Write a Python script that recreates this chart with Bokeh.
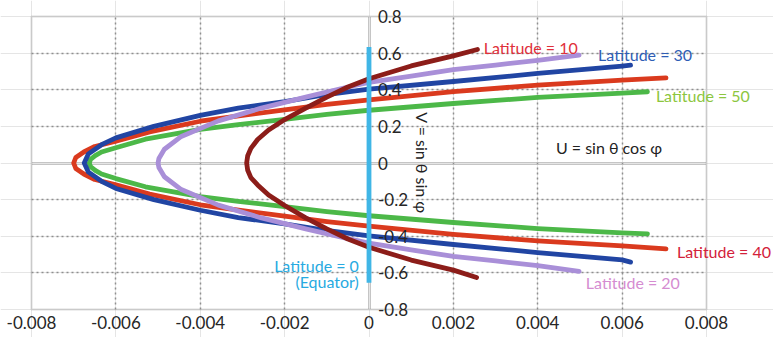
import math
from bokeh.plotting import figure
from bokeh.models import LinearAxis, FixedTicker, Label, Range1d, Grid, BoxAnnotation
from bokeh.embed import file_html
from bokeh.resources import INLINE

# ---- axis ticks ----
x_ticks = [-0.008, -0.006, -0.004, -0.002, 0, 0.002, 0.004, 0.006, 0.008]
x_tick_labels = ["-0.008", "-0.006", "-0.004", "-0.002", "0", "0.002", "0.004", "0.006", "0.008"]
y_ticks = [-0.8, -0.6, -0.4, -0.2, 0, 0.2, 0.4, 0.6, 0.8]
y_tick_labels = ["-0.8", "-0.6", "-0.4", "-0.2", "0", "0.2", "0.4", "0.6", "0.8"]

# ---- series (U = sin θ cos φ, V = sin θ sin φ) ----
lat10_u = [0.00255, 0.002, 0.001, 0.0, -0.0005, -0.001, -0.0015, -0.002, -0.00238, -0.00264,
           -0.0028, -0.002875, -0.0029,
           -0.002875, -0.0028, -0.00264, -0.00238, -0.002, -0.0015, -0.001, -0.0005,
           0.0, 0.001, 0.002, 0.00257]
lat10_v = [-0.625, -0.585, -0.53, -0.46, -0.415, -0.36, -0.3, -0.232, -0.175, -0.12,
           -0.08, -0.04, 0.0,
           0.04, 0.08, 0.128, 0.18, 0.237, 0.3, 0.36, 0.415,
           0.46, 0.53, 0.585, 0.62]

lat20_u = [0.00498, 0.004, 0.003, 0.002, 0.001, 0.0, -0.0005, -0.0015, -0.00255, -0.00357,
           -0.00445, -0.00485, -0.00498, -0.005,
           -0.00498, -0.00485, -0.00445, -0.00357, -0.00255, -0.0015, -0.0005,
           0.0, 0.001, 0.002, 0.003, 0.004, 0.00498]
lat20_v = [-0.592, -0.561, -0.535, -0.51, -0.475, -0.438, -0.413, -0.36, -0.3, -0.23,
           -0.145, -0.075, -0.025, 0.0,
           0.025, 0.075, 0.145, 0.23, 0.3, 0.36, 0.415,
           0.44, 0.475, 0.51, 0.535, 0.561, 0.589]

lat30_u = [0.0062, 0.006, 0.004, 0.002, 0.0, -0.0011, -0.002, -0.0031, -0.004, -0.0051,
           -0.006, -0.00634, -0.00665, -0.00675,
           -0.00665, -0.00634, -0.006, -0.0051, -0.004, -0.0031, -0.002, -0.0011,
           0.0, 0.002, 0.004, 0.006, 0.0062]
lat30_v = [-0.541, -0.529, -0.489, -0.445, -0.398, -0.365, -0.332, -0.298, -0.258, -0.2,
           -0.139, -0.1, -0.05, 0.0,
           0.05, 0.1, 0.137, 0.2, 0.26, 0.3, 0.335, 0.37,
           0.404, 0.445, 0.489, 0.529, 0.534]

lat40_u = [0.00704, 0.006, 0.004, 0.002, 0.0, -0.001, -0.002, -0.003, -0.004, -0.0052,
           -0.006, -0.0065, -0.00676, -0.00695, -0.0070,
           -0.00695, -0.00676, -0.0065, -0.006, -0.0052, -0.004, -0.003, -0.002, -0.001,
           0.0, 0.002, 0.004, 0.006, 0.00704]
lat40_v = [-0.469, -0.452, -0.425, -0.39, -0.345, -0.32, -0.29, -0.26, -0.228, -0.17,
           -0.119, -0.09, -0.06, -0.03, 0.0,
           0.03, 0.06, 0.09, 0.119, 0.17, 0.228, 0.26, 0.29, 0.32,
           0.345, 0.39, 0.425, 0.452, 0.465]

lat50_u = [0.0066, 0.006, 0.004, 0.002, 0.0, -0.001, -0.002, -0.0031, -0.004, -0.0053,
           -0.006, -0.00634, -0.00649, -0.0066, -0.00663,
           -0.0066, -0.00649, -0.00634, -0.006, -0.0053, -0.004, -0.0031, -0.002, -0.001,
           0.0, 0.002, 0.004, 0.006, 0.0066]
lat50_v = [-0.387, -0.382, -0.358, -0.325, -0.288, -0.265, -0.238, -0.21, -0.183, -0.13,
           -0.085, -0.06, -0.04, -0.02, 0.0,
           0.02, 0.04, 0.06, 0.083, 0.13, 0.183, 0.21, 0.238, 0.265,
           0.288, 0.325, 0.358, 0.382, 0.389]

equator_u = [0.0, 0.0]
equator_v = [-0.654, 0.634]

# ---- layout: the plotting frame fills the canvas; the chart box is drawn inside it ----
W, H = 773, 337
BOX_L, BOX_R, BOX_T, BOX_B = 31, 706, 16, 309          # chart box in pixels
x0, x1 = x_ticks[0], x_ticks[-1]
y0, y1 = y_ticks[0], y_ticks[-1]
ppx = (BOX_R - BOX_L) / (x1 - x0)
ppy = (BOX_B - BOX_T) / (y1 - y0)
x_range = Range1d(x0 - BOX_L / ppx, x1 + (W - BOX_R) / ppx)
y_range = Range1d(y0 - (H - BOX_B) / ppy, y1 + BOX_T / ppy)

FONT = "Lato"
GRID_COLOR = "#8f8f8f"
FRAME_COLOR = "#8c8c8c"
TEXT_COLOR = "#262626"

p = figure(width=W, height=H, x_range=x_range, y_range=y_range,
           output_backend="svg", toolbar_location=None,
           x_axis_location=None, y_axis_location=None,
           min_border_left=0, min_border_right=0, min_border_top=0, min_border_bottom=0)
p.outline_line_color = None
p.background_fill_color = "white"
p.border_fill_color = "white"

# ---- dotted grid, limited to the chart box ----
x_grid_ticks = [t for t in x_ticks if t not in (0, x0, x1)]
y_grid_ticks = [t for t in y_ticks if t not in (0, y0, y1)]
has_cross_bounds = "cross_bounds" in Grid.properties()

if has_cross_bounds:
    p.add_layout(Grid(dimension=0, ticker=FixedTicker(ticks=x_grid_ticks), cross_bounds=(y0, y1),
                      grid_line_color=GRID_COLOR, grid_line_width=1.5, grid_line_dash="2 3"))
    p.add_layout(Grid(dimension=1, ticker=FixedTicker(ticks=y_grid_ticks), cross_bounds=(x0, x1),
                      grid_line_color=GRID_COLOR, grid_line_width=1.5, grid_line_dash="2 3"))
else:
    for t in x_grid_ticks:
        p.add_layout(LinearAxis(fixed_location=t, bounds=(y0, y1), ticker=FixedTicker(ticks=[]),
                                axis_line_color=GRID_COLOR, axis_line_width=1.5, axis_line_dash="2 3",
                                level="underlay"), "left")
    for t in y_grid_ticks:
        p.add_layout(LinearAxis(fixed_location=t, bounds=(x0, x1), ticker=FixedTicker(ticks=[]),
                                axis_line_color=GRID_COLOR, axis_line_width=1.5, axis_line_dash="2 3",
                                level="underlay"), "below")

# chart box
p.add_layout(BoxAnnotation(left=x0, right=x1, bottom=y0, top=y1, fill_color=None,
                           line_color=FRAME_COLOR, line_width=2, level="underlay"))

# axis lines through the origin (under the curves)
p.add_layout(LinearAxis(fixed_location=0, bounds=(x0, x1), ticker=FixedTicker(ticks=[]),
                        axis_line_color=FRAME_COLOR, axis_line_width=2, level="underlay"), "below")
p.add_layout(LinearAxis(fixed_location=0, bounds=(y0, y1), ticker=FixedTicker(ticks=[]),
                        axis_line_color=FRAME_COLOR, axis_line_width=2, level="underlay"), "right")

# x tick labels along the bottom of the box
xaxis = LinearAxis(fixed_location=y0, bounds=(x0, x1), ticker=FixedTicker(ticks=x_ticks),
                   major_label_overrides=dict(zip(x_ticks, x_tick_labels)),
                   axis_line_color=None, major_tick_out=0, major_tick_in=0,
                   minor_tick_out=0, minor_tick_in=0, major_label_standoff=6,
                   major_label_text_font=FONT, major_label_text_font_size="17px",
                   major_label_text_color=TEXT_COLOR)
p.add_layout(xaxis, "below")

# y tick labels to the right of the vertical axis at U = 0
yaxis = LinearAxis(fixed_location=0, bounds=(y0, y1), ticker=FixedTicker(ticks=y_ticks),
                   major_label_overrides=dict(zip(y_ticks, y_tick_labels)),
                   axis_line_color=None, major_tick_out=0, major_tick_in=0,
                   minor_tick_out=0, minor_tick_in=0, major_label_standoff=9,
                   major_label_text_font=FONT, major_label_text_font_size="17px",
                   major_label_text_color=TEXT_COLOR)
p.add_layout(yaxis, "right")

# ---- curves ----
LW = 4.8
kw = dict(line_width=LW, line_join="round", line_cap="round")
p.line(lat50_u, lat50_v, line_color="#4cb848", **kw)
p.line(lat40_u, lat40_v, line_color="#da3a1e", **kw)
p.line(lat30_u, lat30_v, line_color="#2145a3", **kw)
p.line(lat20_u, lat20_v, line_color="#a98fd8", **kw)
p.line(lat10_u, lat10_v, line_color="#8c1d19", **kw)
p.line(equator_u, equator_v, line_color="#40b6e6", line_width=LW)

def lab(x, y, text, color, align="left", angle=0.0, size="16px"):
    p.add_layout(Label(x=x, y=y, text=text, text_color=color, text_font=FONT,
                       text_font_size=size, text_align=align, text_baseline="middle",
                       angle=angle))

lab(0.00272, 0.632, "Latitude = 10", "#e0303a")
lab(0.00543, 0.595, "Latitude = 30", "#2e5db5")
lab(0.0068, 0.371, "Latitude = 50", "#8cc63e")
lab(0.0073, -0.483, "Latitude = 40", "#d3213a")
lab(0.00514, -0.65, "Latitude = 20", "#d58cd1")
lab(-0.00024, -0.561, "Latitude = 0", "#27aae1", align="right")
lab(-0.00024, -0.647, "(Equator)", "#27aae1", align="right")
lab(0.00443, 0.0855, "U = sin θ cos φ", "#222222")
lab(0.00126, 0.0, "V = sin θ sin φ", "#222222", align="center", angle=-math.pi / 2)

open("out.html", "w").write(file_html(p, INLINE))
